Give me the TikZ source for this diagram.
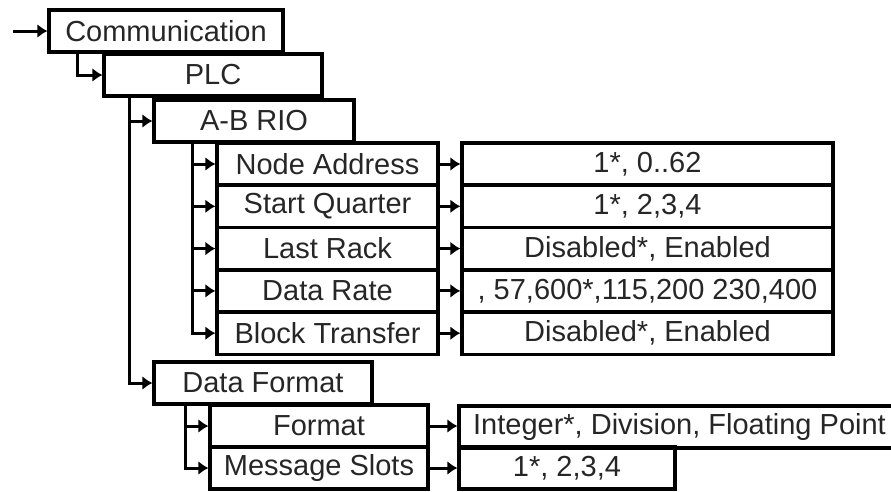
\documentclass[tikz,border=0pt]{standalone}
\usepackage{fontspec}
\setmainfont{Liberation Sans}
\usetikzlibrary{arrows.meta,positioning}

\begin{document}
\begin{tikzpicture}[x=1pt,y=-1pt,
  box/.style={draw,rectangle,line width=3.2pt,minimum height=42pt,inner sep=0pt,
    font=\fontsize{29}{34}\selectfont,text=black!85},
  conn/.style={line width=3pt,-{Latex[length=10pt,width=14pt]}}]
\useasboundingbox (0,0) rectangle (891,491);

%Menu boxes
\coordinate (start) at (13,31);
\node[box,minimum width=234pt] (comm) at (166,31) {Communication};
\node[box,minimum width=218pt] (plc) at (213,75) {PLC};
\node[box,minimum width=200pt] (abrio) at (254,121) {A-B RIO};

%Parameters of A-B RIO
\node[box,minimum width=221pt] (addr) at (327.5,164) {Node Address};
\node[box,minimum width=221pt] (quarter) at (327.5,206.3) {Start Quarter};
\node[box,minimum width=221pt] (rack) at (327.5,248.6) {Last Rack};
\node[box,minimum width=221pt] (rate) at (327.5,290.9) {Data Rate};
\node[box,minimum width=221pt] (block) at (327.5,333.2) {Block Transfer};

%Values of A-B RIO
\node[box,minimum width=371pt] (addrval) at (647.5,164) {1*, 0..62};
\node[box,minimum width=371pt] (quarterval) at (647.5,206.3) {1*, 2,3,4};
\node[box,minimum width=371pt] (rackval) at (647.5,248.6) {Disabled*, Enabled};
\node[box,minimum width=371pt] (rateval) at (647.5,290.9) {, 57,600*,115,200 230,400};
\node[box,minimum width=371pt] (blockval) at (647.5,333.2) {Disabled*, Enabled};

%Data format branch
\node[box,minimum width=218pt] (dataformat) at (263,383) {Data Format};
\node[box,minimum width=218pt] (format) at (319,426) {Format};
\node[box,minimum width=218pt] (slots) at (319,468) {Message Slots};
\node[box,minimum width=441pt] (formatval) at (679.5,427) {Integer*, Division, Floating Point};
\node[box,minimum width=216pt] (slotsval) at (567,468) {1*, 2,3,4};

%Connectors
\draw[conn] (start) -- (comm.west);
\draw[conn] ([xshift=-89pt]comm.south) |- (plc.west);
\draw[conn] ([xshift=-84pt]plc.south) |- (abrio.west);
\draw[conn] ([xshift=-84pt]plc.south) |- (dataformat.west);
\draw[conn] ([xshift=-62pt]abrio.south) |- (addr.west);
\draw[conn] ([xshift=-62pt]abrio.south) |- (quarter.west);
\draw[conn] ([xshift=-62pt]abrio.south) |- (rack.west);
\draw[conn] ([xshift=-62pt]abrio.south) |- (rate.west);
\draw[conn] ([xshift=-62pt]abrio.south) |- (block.west);
\draw[conn] ([xshift=-78pt]dataformat.south) |- (format.west);
\draw[conn] ([xshift=-78pt]dataformat.south) |- (slots.west);
\draw[conn] (addr) -- (addrval);
\draw[conn] (quarter) -- (quarterval);
\draw[conn] (rack) -- (rackval);
\draw[conn] (rate) -- (rateval);
\draw[conn] (block) -- (blockval);
\draw[conn] (format) -- (formatval.west |- format);
\draw[conn] (slots) -- (slotsval);
\end{tikzpicture}
\end{document}
